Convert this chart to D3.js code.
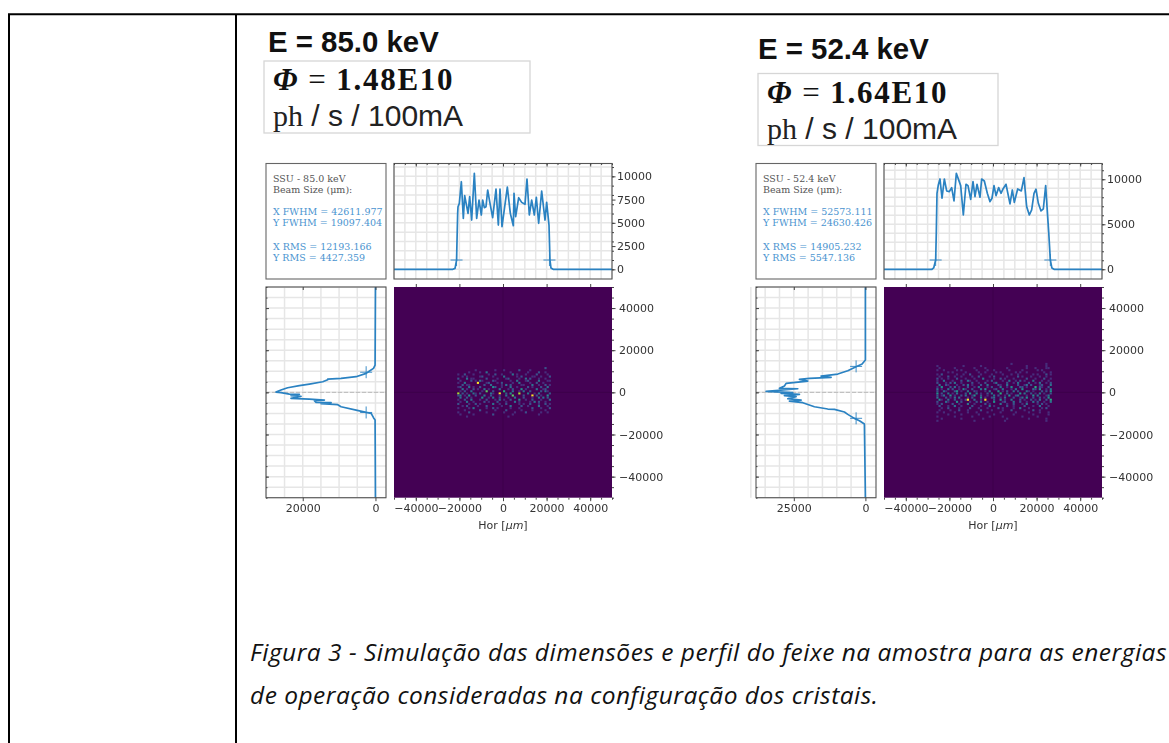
<!DOCTYPE html>
<html>
<head>
<meta charset="utf-8">
<script src="https://cdn.jsdelivr.net/npm/d3@7"></script>
<style>
  html, body { margin: 0; padding: 0; background: #fff; overflow: hidden; }
  svg { display: block; }
  .plot { filter: blur(0.55px); }
  .cells { filter: blur(0.5px); }
  .axis text { font-family: "DejaVu Sans"; font-size: 11px; fill: #333; }
  .axis path, .axis line { stroke: #444; }
  .info { font-family: "DejaVu Serif"; font-size: 9.5px; }
</style>
</head>
<body>
<script>
// top profile (horizontal), E = 85.0 keV
var top85X = [-50000,-23000,-22000,-21300,-20800,-20640,-20030,-19110,-18200,-17580,-16050,-15290,-14370,-13150,-12080,-11000,-9940,-9330,-8560,-7800,-7030,-5960,-4740,-3210,-2140,-1380,-460,1990,3360,4740,5050,5810,7190,8560,10090,11000,12080,13150,14370,15290,16360,17740,19270,20030,21100,21550,22000,23000,50000];
var top85Y = [0,0,100,1000,6000,6730,7090,9420,5480,7920,6020,7810,5300,10320,5480,7450,5840,7450,6630,6730,8530,7090,5550,8630,4760,8630,4580,8850,6020,4690,8170,5660,7700,7200,6990,9710,5840,7450,5840,7740,4950,8420,5300,7200,4760,1000,150,0,0];

// side profile (vertical), E = 85.0 keV
var side85Pos = [50000,12950,11370,10100,9000,7420,6630,6310,5990,5040,3940,3150,2200,1090,140,-170,-800,-960,-1600,-1910,-2860,-3180,-3650,-3970,-4760,-4920,-5390,-5870,-6820,-8400,-9500,-9980,-12030,-13140,-50000];
var side85Val = [0,100,540,1640,2560,5320,9450,13120,13120,14500,18170,20930,24140,25980,27360,25980,23680,20930,23220,20470,23220,18170,14040,16800,16340,12200,14960,10370,9450,5320,2560,1180,540,100,0];

// top profile (horizontal), E = 52.4 keV
var top52X = [-50000,-28000,-27200,-26300,-26000,-25690,-25080,-24310,-23390,-22320,-21250,-20030,-18960,-17890,-16820,-14830,-13610,-12390,-11470,-10240,-9170,-8260,-7340,-5960,-5200,-3980,-2600,-1380,-460,460,1380,2600,3670,4590,5960,7800,8870,9780,11320,13000,14220,15440,16670,17740,18810,19720,20800,22020,23090,24160,24920,25540,26300,27000,28000,50000];
var top52Y = [0,0,150,1030,4180,8440,9370,10030,7890,10030,8700,8630,9070,7590,10660,9290,6030,9440,9290,7770,9740,8070,9440,8000,10030,9810,8440,7510,7890,9290,8180,9070,8440,8920,9440,7260,8810,7440,8920,8700,10180,6960,6030,6590,8440,8890,7330,6480,6700,9290,6400,4180,1030,150,0,0];

// side profile (vertical), E = 52.4 keV
var side52Pos = [50000,15320,13420,12160,10260,8680,7730,7100,6630,6150,5360,4250,2990,1880,1720,460,-170,-490,-960,-1600,-2070,-3020,-3650,-4130,-4920,-6820,-7920,-8080,-9350,-10450,-12350,-13460,-15040,-50000];
var side52Val = [0,0,1150,3250,6160,9650,15470,11980,19540,23030,20120,27690,28270,30020,23610,34670,25360,29430,23030,28270,24200,27100,22450,26530,21870,17800,13140,10810,7320,6160,3830,2080,350,0];

// FWHM markers, half widths in um and the height they sit at
var fwhm85X = 21306, fwhm85Y = 9548, mark85Top = 1000, mark85Side = 2560;
var fwhm52X = 26300, fwhm52Y = 12315, mark52Top = 1030, mark52Side = 3250;

// 2D histogram, one digit per 1000 um bin, rows from top to bottom
var heat85Left = -21000, heat85Top = 12000;
var heat85 = [
  "0000000000000000000000000000000000000000200",
  "0000000010000000010001000000200001000000000",
  "0000010000100300000000001000000010000200100",
  "1002000100000010020010000301000100002000010",
  "0010100000120000100003000001020000110010002",
  "2000301100000200001000120000100302000100100",
  "0100002010310000210000001003000120000300011",
  "1003000008000120001020000100300001002001000",
  "0020110000002003000010302000011000300100201",
  "1200030100200000420010003001000020100020030",
  "0030100201003010000300010200040100003001200",
  "0102003000010600200005000300103002000020310",
  "7020100310200003100800204000700030010300002",
  "2301040020003002000100300600002000902010040",
  "0300201000040010300200010030002000100303020",
  "1002003000100200010301002000400100200010003",
  "0100300100002010002000100030100001030200100",
  "2000010020100000300100200000101002000100201",
  "0010200001000200000010003000020010000300010",
  "1000010300000100201000001000100000200010002",
  "0001000000200000010000200000010000100000100",
  "1000020000000100000001000010000200000010010",
  "0100000100000000200000000100000000000100000",
  "0000100000000000000000010000000000000000000"
];

var heat52Left = -26000, heat52Top = 14000;
var heat52 = [
  "00000000000000000000000000000000001000000000000000100",
  "10000000000010000000100000000000000000000100000000100",
  "01000000100000000100001000000000100000000100010000110",
  "10010000010100000010000100100000010000010000001010000",
  "00000101000001000001001000010100000010100100000001001",
  "10200000010010020000100001000010001001000000101000201",
  "01000200100100001002000010200000100002010001000100100",
  "20100100020001000100030000100201000100000200010002001",
  "10030001000200310010000102000010030010201000300010010",
  "20001020300100002001002000130000200103000020010300102",
  "03002100010020301000200300002100300002001302000120003",
  "10400020301000200103000102000300104000220100050210020",
  "30100302001041002000304000120030001030040000320400103",
  "20031000240100300210001030004010200302000310100020204",
  "40200301030002040030100203000500201000403002010301002",
  "20130040100203001400200100302001040023000100403000130",
  "30002010303000102000401002300103000200130400200201040",
  "04100300200102900300108000200401003000201002010300205",
  "20003100040200010020300100400012000300200100302001003",
  "10200002001000300100002010000300100200010300001020100",
  "02000100300100002000100030100000200100002000100300010",
  "00100200001000020001000100002010000100300010000010200",
  "01000010002000100000200001000010002000001000200100000",
  "10010000100000100010000100000100000010000010000100010",
  "00000100000100000001000000100000000100000000100000010",
  "10000000100000001000000010000010000000010000001000000",
  "00100000000100000000010000000000100000000010000000100",
  "10000000000000000100000000000001000000000000000000100"
];

var heatMax = 8;

var info85 = ["SSU - 85.0 keV", "Beam Size  (\u03bcm):", "X FWHM = 42611.977", "Y FWHM = 19097.404", "X RMS = 12193.166", "Y RMS = 4427.359"];
var info52 = ["SSU - 52.4 keV", "Beam Size  (\u03bcm):", "X FWHM = 52573.111", "Y FWHM = 24630.426", "X RMS = 14905.232", "Y RMS = 5547.136"];

var captionLines = [
  "Figura 3 - Simula\u00e7\u00e3o das dimens\u00f5es e perfil do feixe na amostra para as energias",
  "de opera\u00e7\u00e3o consideradas na configura\u00e7\u00e3o dos cristais."
];

var svg = d3.select('body').append('svg')
  .attr('width', 1169)
  .attr('height', 743);

var lineBlue = '#2a82c2', textBlue = '#4a94d0', textGrey = '#555';

// table borders around the document cell
function drawTable(){
  var rules = [[8, 14.3, 1169, 14.3], [9, 14, 9, 743], [236, 14, 236, 743]];
  svg.selectAll('.rule')
    .data(rules)
    .enter().append('line')
    .attr('class', 'rule')
    .attr('x1', function(d){ return d[0]; })
    .attr('y1', function(d){ return d[1]; })
    .attr('x2', function(d){ return d[2]; })
    .attr('y2', function(d){ return d[3]; })
    .attr('stroke', '#000')
    .attr('stroke-width', 2);
}

// light grid inside a frame
function drawGrid(g, xs, ys, xScale, yScale, w, h){
  g.selectAll('.gx').data(xs).enter().append('line')
    .attr('x1', function(d){ return xScale(d); })
    .attr('x2', function(d){ return xScale(d); })
    .attr('y1', 0).attr('y2', h)
    .attr('stroke', '#e6e6e6').attr('stroke-width', 1.5);
  g.selectAll('.gy').data(ys).enter().append('line')
    .attr('y1', function(d){ return yScale(d); })
    .attr('y2', function(d){ return yScale(d); })
    .attr('x1', 0).attr('x2', w)
    .attr('stroke', '#e6e6e6').attr('stroke-width', 1.5);
}

function drawFrame(g, w, h, color){
  g.append('rect')
    .attr('width', w).attr('height', h)
    .attr('fill', 'none')
    .attr('stroke', color)
    .attr('stroke-width', 1.1);
}

function drawCross(g, cx, cy, size){
  g.append('path')
    .attr('d', 'M' + (cx - size / 2) + ',' + cy + 'H' + (cx + size / 2) + 'M' + cx + ',' + (cy - size / 2) + 'V' + (cy + size / 2))
    .attr('stroke', lineBlue)
    .attr('stroke-width', 0.9)
    .attr('fill', 'none');
}

function steps(from, to, by){
  return d3.range(from, to + by / 2, by);
}

function cleanAxis(sel){
  sel.select('.domain').remove();
  sel.attr('class', 'axis');
}

function drawPanel(left, p){
  var root = svg.append('g')
    .attr('class', 'plot')
    .attr('transform', 'translate(' + left + ',0)');

  var boxW = 120, mainX = 128, mainW = 218;
  var topY = 163.5, topH = 115.5, lowY = 287, lowH = 210.7;

  // info box
  var box = root.append('g').attr('transform', 'translate(0,' + topY + ')');
  box.append('rect').attr('width', boxW).attr('height', topH)
    .attr('fill', '#fff').attr('stroke', '#666').attr('stroke-width', 1.1);
  var lineY = [18, 29.5, 51.5, 62.5, 86.5, 97];
  box.selectAll('text').data(p.info).enter().append('text')
    .attr('class', 'info')
    .attr('x', 7)
    .attr('y', function(d, i){ return lineY[i]; })
    .attr('fill', function(d, i){ return i < 2 ? textGrey : textBlue; })
    .text(function(d){ return d; });

  var x = d3.scaleLinear().domain([-50000, 50000]).range([0, mainW]);
  var y = d3.scaleLinear().domain([50000, -50000]).range([0, lowH]);
  var minorPos = steps(-50000, 50000, 5000);
  var majorPos = steps(-40000, 40000, 20000);

  // top profile
  var topPlot = root.append('g').attr('transform', 'translate(' + mainX + ',' + topY + ')');
  var yTop = d3.scaleLinear().domain(p.topDomain).range([topH, 0]);
  topPlot.append('rect').attr('width', mainW).attr('height', topH).attr('fill', '#fff');
  drawGrid(topPlot, minorPos, steps(0, 11000, 1000), x, yTop, mainW, topH);
  topPlot.append('path')
    .datum(d3.zip(p.topX, p.topY))
    .attr('fill', 'none').attr('stroke', lineBlue).attr('stroke-width', 1.7)
    .attr('stroke-linejoin', 'round')
    .attr('d', d3.line().x(function(d){ return x(d[0]); }).y(function(d){ return yTop(d[1]); }));
  drawCross(topPlot, x(-p.fwhmX), yTop(p.markTop), 12);
  drawCross(topPlot, x(p.fwhmX), yTop(p.markTop), 12);
  drawFrame(topPlot, mainW, topH, '#555');
  topPlot.append('g').attr('transform', 'translate(' + mainW + ',0)')
    .call(d3.axisRight(yTop).tickValues(p.topTicks).tickFormat(d3.format('d')).tickSize(3.5).tickPadding(1.5))
    .call(cleanAxis);
  topPlot.append('g').attr('transform', 'translate(' + mainW + ',0)')
    .call(d3.axisRight(yTop).tickValues(steps(0, 11000, 1000)).tickFormat('').tickSize(2))
    .call(cleanAxis);
  topPlot.append('g')
    .call(d3.axisTop(x).tickValues(majorPos).tickFormat('').tickSize(-3))
    .call(cleanAxis);
  topPlot.append('g')
    .call(d3.axisTop(x).tickValues(minorPos).tickFormat('').tickSize(-1.5))
    .call(cleanAxis);

  // side profile
  var side = root.append('g').attr('transform', 'translate(0,' + lowY + ')');
  var xSide = d3.scaleLinear().domain(p.sideDomain).range([0, boxW]);
  side.append('rect').attr('width', boxW).attr('height', lowH).attr('fill', '#fff');
  drawGrid(side, steps(0, p.sideDomain[0], 5000), minorPos, xSide, y, boxW, lowH);
  side.append('line')
    .attr('x1', 0).attr('x2', boxW).attr('y1', y(0)).attr('y2', y(0))
    .attr('stroke', '#bbb').attr('stroke-dasharray', '4,2');
  side.append('path')
    .datum(d3.zip(p.sideVal, p.sidePos))
    .attr('fill', 'none').attr('stroke', lineBlue).attr('stroke-width', 1.7)
    .attr('stroke-linejoin', 'round')
    .attr('d', d3.line().x(function(d){ return xSide(d[0]); }).y(function(d){ return y(d[1]); }));
  drawCross(side, xSide(p.markSide), y(p.fwhmY), 12);
  drawCross(side, xSide(p.markSide), y(-p.fwhmY), 12);
  drawFrame(side, boxW, lowH, '#555');
  side.append('g').attr('transform', 'translate(0,' + lowH + ')')
    .call(d3.axisBottom(xSide).tickValues(p.sideTicks).tickFormat(d3.format('d')).tickSize(3.5).tickPadding(3))
    .call(cleanAxis);
  side.append('g')
    .call(d3.axisTop(xSide).tickValues(p.sideTicks).tickFormat('').tickSize(-3))
    .call(cleanAxis);
  side.append('g')
    .call(d3.axisLeft(y).tickValues(majorPos).tickFormat('').tickSize(-3))
    .call(cleanAxis);
  side.append('g')
    .call(d3.axisLeft(y).tickValues(minorPos).tickFormat('').tickSize(-1.5))
    .call(cleanAxis);

  // 2D histogram
  var heat = root.append('g').attr('transform', 'translate(' + mainX + ',' + lowY + ')');
  heat.append('rect').attr('width', mainW).attr('height', lowH).attr('fill', d3.interpolateViridis(0));
  var cells = [];
  p.heat.forEach(function(row, r){
    row.split('').forEach(function(c, i){
      if (+c > 0) {
        cells.push({x: p.heatLeft + i * 1000, y: p.heatTop - r * 1000, v: +c});
      }
    });
  });
  var color = d3.scaleSequential(d3.interpolateViridis).domain([0, heatMax]).clamp(true);
  heat.append('g').attr('class', 'cells').selectAll('rect').data(cells).enter().append('rect')
    .attr('x', function(d){ return x(d.x); })
    .attr('y', function(d){ return y(d.y); })
    .attr('width', x(1000) - x(0))
    .attr('height', y(0) - y(1000))
    .attr('fill', function(d){ return color(d.v); });
  heat.append('line').attr('x1', x(0)).attr('x2', x(0)).attr('y1', 0).attr('y2', lowH)
    .attr('stroke', '#000').attr('stroke-opacity', 0.12);
  heat.append('line').attr('y1', y(0)).attr('y2', y(0)).attr('x1', 0).attr('x2', mainW)
    .attr('stroke', '#000').attr('stroke-opacity', 0.12);

  heat.append('g').attr('transform', 'translate(' + mainW + ',0)')
    .call(d3.axisRight(y).tickValues(majorPos).tickFormat(d3.format('d')).tickSize(3.5).tickPadding(3.5))
    .call(cleanAxis);
  heat.append('g').attr('transform', 'translate(' + mainW + ',0)')
    .call(d3.axisRight(y).tickValues(minorPos).tickFormat('').tickSize(2))
    .call(cleanAxis);
  heat.append('g').attr('transform', 'translate(0,' + lowH + ')')
    .call(d3.axisBottom(x).tickValues(majorPos).tickFormat(d3.format('d')).tickSize(3.5).tickPadding(3))
    .call(cleanAxis);
  heat.append('g').attr('transform', 'translate(0,' + lowH + ')')
    .call(d3.axisBottom(x).tickValues(minorPos).tickFormat('').tickSize(2))
    .call(cleanAxis);
  heat.append('g')
    .call(d3.axisTop(x).tickValues(majorPos).tickFormat('').tickSize(3))
    .call(cleanAxis);

  var xLabel = heat.append('text')
    .attr('x', mainW / 2)
    .attr('y', lowH + 31.5)
    .attr('text-anchor', 'middle')
    .attr('font-family', 'DejaVu Sans')
    .attr('font-size', 11)
    .attr('fill', '#333');
  xLabel.append('tspan').text('Hor [');
  xLabel.append('tspan').attr('font-style', 'italic').text('\u03bcm');
  xLabel.append('tspan').text(']');
}

function drawHeading(h){
  svg.append('text')
    .attr('x', h.x).attr('y', h.titleY)
    .attr('font-family', 'Liberation Sans').attr('font-weight', 'bold')
    .attr('font-size', 29.4).attr('fill', '#111')
    .text(h.title);

  svg.append('rect')
    .attr('x', h.boxX).attr('y', h.boxY)
    .attr('width', h.boxW).attr('height', 72)
    .attr('fill', '#fff').attr('stroke', '#d6d6d6').attr('stroke-width', 1.3);

  var flux = svg.append('text')
    .attr('x', h.boxX + 9).attr('y', h.boxY + 29)
    .attr('font-family', 'Liberation Serif').attr('font-weight', 'bold')
    .attr('font-size', 31).attr('letter-spacing', 1.7).attr('fill', '#111');
  flux.append('tspan').attr('font-style', 'italic').text('\u03a6');
  flux.append('tspan').attr('dx', 9).attr('font-weight', 'normal').text('=');
  flux.append('tspan').attr('dx', 9).text(h.flux);

  var unit = svg.append('text')
    .attr('x', h.boxX + 9).attr('y', h.boxY + 65)
    .attr('font-size', 30).attr('fill', '#222');
  unit.append('tspan').attr('font-family', 'Liberation Serif').text('ph');
  unit.append('tspan').attr('font-family', 'Liberation Sans').text(' / s / 100mA');
}

function drawCaption(){
  svg.selectAll('.caption')
    .data(captionLines)
    .enter().append('text')
    .attr('class', 'caption')
    .attr('x', 250)
    .attr('y', function(d, i){ return 661 + i * 43; })
    .attr('font-family', 'Open Sans')
    .attr('font-style', 'italic')
    .attr('font-size', 24.5)
    .attr('letter-spacing', 0.49)
    .attr('fill', '#111')
    .text(function(d){ return d; });
}

drawTable();

drawHeading({x: 268, titleY: 52, title: 'E = 85.0 keV', boxX: 264, boxY: 61, boxW: 266, flux: '1.48E10'});
drawHeading({x: 758, titleY: 59, title: 'E = 52.4 keV', boxX: 758, boxY: 73.5, boxW: 240, flux: '1.64E10'});

drawPanel(266, {
  info: info85, topX: top85X, topY: top85Y, sidePos: side85Pos, sideVal: side85Val,
  fwhmX: fwhm85X, fwhmY: fwhm85Y, markTop: mark85Top, markSide: mark85Side,
  heat: heat85, heatLeft: heat85Left, heatTop: heat85Top,
  topDomain: [-1040, 11380], topTicks: [0, 2500, 5000, 7500, 10000],
  sideDomain: [30100, -2900], sideTicks: [20000, 0]
});

drawPanel(756, {
  info: info52, topX: top52X, topY: top52Y, sidePos: side52Pos, sideVal: side52Val,
  fwhmX: fwhm52X, fwhmY: fwhm52Y, markTop: mark52Top, markSide: mark52Side,
  heat: heat52, heatLeft: heat52Left, heatTop: heat52Top,
  topDomain: [-1080, 11750], topTicks: [0, 5000, 10000],
  sideDomain: [38200, -3700], sideTicks: [25000, 0]
});

drawCaption();
</script>
</body>
</html>
